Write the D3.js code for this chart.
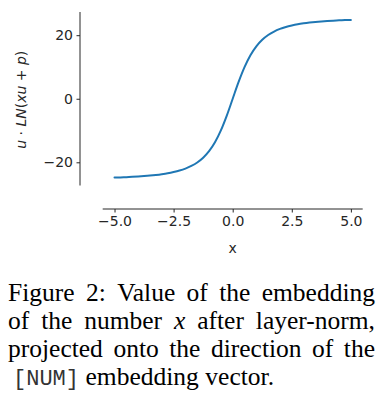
<!DOCTYPE html>
<html>
<head>
<meta charset="utf-8">
<script src="https://cdn.jsdelivr.net/npm/d3@7"></script>
<style>
  html, body { margin: 0; padding: 0; background: #fff; }
  svg { display: block; }
</style>
</head>
<body>
<svg id="chart" width="379" height="396"></svg>
<script>
// ---- data ----
const xValues = [-5, -4.75, -4.5, -4.25, -4, -3.75, -3.5, -3.25, -3, -2.75, -2.5, -2.25, -2, -1.75, -1.5, -1.25, -1, -0.75, -0.5, -0.25,
                 0, 0.25, 0.5, 0.75, 1, 1.25, 1.5, 1.75, 2, 2.25, 2.5, 2.75, 3, 3.25, 3.5, 3.75, 4, 4.25, 4.5, 4.75, 5];
const yValues = [-24.8, -24.75, -24.67, -24.57, -24.46, -24.33, -24.17, -23.97, -23.73, -23.44, -23.06, -22.59, -21.97, -21.15, -20.05, -18.55, -16.5, -13.7, -9.96, -5.3,
                 0, 5.3, 9.96, 13.7, 16.5, 18.55, 20.05, 21.15, 21.97, 22.59, 23.06, 23.44, 23.73, 23.97, 24.17, 24.33, 24.46, 24.57, 24.67, 24.75, 24.8];
const xTicks = [-5, -2.5, 0, 2.5, 5];
const yTicks = [-20, 0, 20];
const xLabel = "x";
const captionLines = [
  [{t: "Figure"}, {t: "2:"}, {t: "Value"}, {t: "of"}, {t: "the"}, {t: "embedding"}],
  [{t: "of"}, {t: "the"}, {t: "number"}, {t: "x", s: "math"}, {t: "after"}, {t: "layer-norm,"}],
  [{t: "projected"}, {t: "onto"}, {t: "the"}, {t: "direction"}, {t: "of"}, {t: "the"}],
  [{t: "[NUM]", s: "mono"}, {t: "embedding"}, {t: "vector."}]
];

// ---- layout ----
const svg = d3.select("#chart");
const x = d3.scaleLinear().domain([-5.5, 5.5]).range([102.7, 362.7]);
const y = d3.scaleLinear().domain([-27.3, 27.3]).range([185.5, 12]);
const xAxisY = 209, yAxisX = 80;
const tickFont = "DejaVu Sans, sans-serif";
const tickSize = "14px";

// x axis
const gx = svg.append("g").attr("transform", `translate(0,${xAxisY})`)
  .call(d3.axisBottom(x).tickValues(xTicks).tickSize(3.5).tickPadding(3.5)
        .tickFormat(d => d3.format(".1f")(d).replace("-", "\u2212")));
// y axis
const gy = svg.append("g").attr("transform", `translate(${yAxisX},0)`)
  .call(d3.axisLeft(y).tickValues(yTicks).tickSize(3.5).tickPadding(3.5)
        .tickFormat(d => String(d).replace("-", "\u2212")));

[gx, gy].forEach(g => {
  g.selectAll(".domain").attr("stroke", "#262626").attr("stroke-width", 1);
  g.selectAll(".tick line").attr("stroke", "#262626").attr("stroke-width", 1);
  g.selectAll(".tick text").attr("fill", "#262626").style("font-family", tickFont).style("font-size", tickSize);
});
// plain spines (no end caps)
gx.select(".domain").attr("d", `M${x.range()[0]},0H${x.range()[1]}`);
gy.select(".domain").attr("d", `M0,${y.range()[0]}V${y.range()[1]}`);

// line
const line = d3.line().x((d, i) => x(xValues[i])).y(d => y(d)).curve(d3.curveMonotoneX);
svg.append("path").datum(yValues)
  .attr("fill", "none").attr("stroke", "#1f77b4").attr("stroke-width", 2)
  .attr("stroke-linecap", "round").attr("d", line);

// x label
svg.append("text").attr("x", x(0)).attr("y", 253)
  .attr("text-anchor", "middle").attr("fill", "#262626")
  .style("font-family", tickFont).style("font-size", tickSize).text(xLabel);

// y label (math)
const yl = svg.append("text")
  .attr("transform", `translate(26,${y(0) + 1}) rotate(-90)`)
  .attr("text-anchor", "middle").attr("fill", "#262626")
  .style("font-family", tickFont).style("font-size", "14px");
[["u", true], [" \u00b7 ", false], ["LN", true], ["(", false], ["xu", true], [" + ", false], ["p", true], [")", false]]
  .forEach(([t, it]) => yl.append("tspan").style("font-style", it ? "italic" : "normal").text(t));

// caption (justified)
const capX0 = 8, capX1 = 375, baselines = [301, 329, 357, 385];
const fontFor = s => s === "mono" ? "'Liberation Mono', 'DejaVu Sans Mono', monospace"
                                  : "'Liberation Serif', 'Times New Roman', serif";
captionLines.forEach((words, li) => {
  const nodes = words.map(w => svg.append("text").attr("y", baselines[li])
      .style("font-family", fontFor(w.s))
      .style("font-size", w.s === "mono" ? "22px" : "25.5px")
      .style("font-style", w.s === "math" ? "italic" : "normal")
      .attr("fill", w.s === "mono" ? "#333" : "#000")
      .text(w.t));
  const widths = nodes.map(n => n.node().getComputedTextLength());
  const total = d3.sum(widths);
  const last = li === captionLines.length - 1;
  const gap = last ? 6.5 : (capX1 - capX0 - total) / (words.length - 1);
  let cx = capX0 + (last ? 5 : 0);
  nodes.forEach((n, i) => { n.attr("x", cx); cx += widths[i] + gap; });
});
</script>
</body>
</html>
